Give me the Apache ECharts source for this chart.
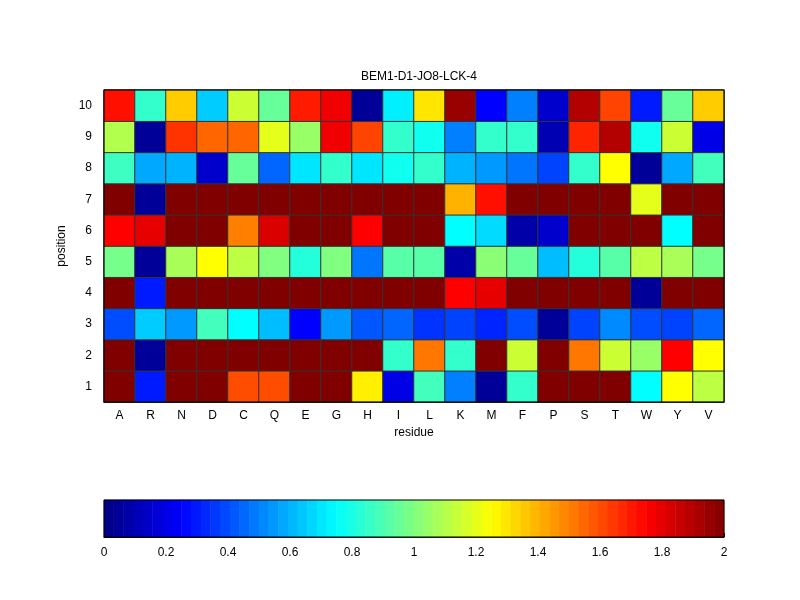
<!DOCTYPE html>
<html>
<head>
<meta charset="utf-8">
<script src="https://cdn.jsdelivr.net/npm/echarts@6/dist/echarts.min.js"></script>
<style>html,body{margin:0;background:#fff}#main{width:800px;height:600px}</style>
</head>
<body>
<div id="main"></div>
<script>
var residues = ['A','R','N','D','C','Q','E','G','H','I','L','K','M','F','P','S','T','W','Y','V'];
var positions = ['1','2','3','4','5','6','7','8','9','10'];
// rows: position 1..10, columns follow residues
var row1  = [2,0.3,2,2,1.6,1.6,2,2,1.28,0.2,0.88,0.5,0.05,0.85,2,2,2,0.75,1.25,1.12];
var row2  = [2,0.05,2,2,2,2,2,2,2,0.85,1.52,0.85,2,1.15,2,1.52,1.15,1.05,1.75,1.25];
var row3  = [0.4,0.65,0.55,0.88,0.75,0.62,0.25,0.55,0.42,0.45,0.35,0.38,0.32,0.4,0.05,0.38,0.52,0.4,0.38,0.45];
var row4  = [2,0.3,2,2,2,2,2,2,2,2,2,1.75,1.8,2,2,2,2,0.05,2,2];
var row5  = [0.98,0.05,1.08,1.25,1.12,1.0,0.82,1.0,0.48,0.92,0.92,0.08,1.02,0.95,0.62,0.82,0.92,1.12,1.08,0.98];
var row6  = [1.75,1.8,2,2,1.5,1.82,2,2,1.75,2,2,0.75,0.68,0.08,0.15,2,2,2,0.75,2];
var row7  = [2,0.05,2,2,2,2,2,2,2,2,2,1.4,1.72,2,2,2,2,1.2,2,2];
var row8  = [0.87,0.58,0.6,0.15,0.95,0.45,0.7,0.85,0.7,0.78,0.85,0.6,0.55,0.48,0.38,0.85,1.25,0.05,0.58,0.88];
var row9  = [1.1,0.05,1.65,1.55,1.55,1.2,1.05,1.78,1.62,0.85,0.78,0.5,0.85,0.85,0.1,1.68,1.9,0.78,1.15,0.2];
var row10 = [1.72,0.85,1.35,0.65,1.15,0.95,1.7,1.78,0.05,0.72,1.3,1.95,0.25,0.5,0.15,1.9,1.62,0.3,0.95,1.35];
var rows = [row1,row2,row3,row4,row5,row6,row7,row8,row9,row10];
var cbarTicks = [0,0.2,0.4,0.6,0.8,1,1.2,1.4,1.6,1.8,2];

var cells = [];
rows.forEach(function (r, y) { r.forEach(function (v, x) { cells.push([x, y, v]); }); });

var nBins = 64, bins = [], binData = [];
for (var i = 0; i < nBins; i++) { bins.push(i); binData.push([i, 0, (i + 0.5) * 2 / nBins]); }

var jet = ['#000080','#0000ff','#0080ff','#00ffff','#80ff80','#ffff00','#ff8000','#ff0000','#800000'];
var font = 'Liberation Sans';

var chart = echarts.init(document.getElementById('main'));
chart.setOption({
  backgroundColor: '#fff',
  animation: false,
  textStyle: {fontFamily: font},
  title: {text: 'BEM1-D1-JO8-LCK-4', left: 414, top: 66, textAlign: 'center',
    textStyle: {fontSize: 12, fontWeight: 'normal', color: '#000', fontFamily: font}},
  visualMap: {type: 'continuous', min: 0, max: 2, show: false, seriesIndex: [0, 1],
    inRange: {color: jet}},
  grid: [
    {left: 104, right: 76, top: 90, bottom: 198},
    {left: 104, right: 76, top: 500, bottom: 63}
  ],
  xAxis: [
    {type: 'category', gridIndex: 0, data: residues, name: 'residue', nameLocation: 'middle', nameGap: 24,
      nameTextStyle: {color: '#000', fontSize: 12},
      axisLine: {lineStyle: {color: '#000'}}, axisTick: {show: false},
      axisLabel: {color: '#000', fontSize: 12}, splitLine: {show: false}},
    {type: 'category', gridIndex: 1, data: bins, show: false},
    {type: 'value', gridIndex: 1, min: 0, max: 2, interval: 0.2, position: 'bottom',
      axisLine: {show: true, lineStyle: {color: '#000'}},
      axisTick: {show: true, inside: true, length: 4, lineStyle: {color: '#000'}},
      axisLabel: {color: '#000', fontSize: 12, margin: 10}, splitLine: {show: false}}
  ],
  yAxis: [
    {type: 'category', gridIndex: 0, data: positions, name: 'position', nameLocation: 'middle', nameGap: 30,
      nameTextStyle: {color: '#000', fontSize: 12},
      axisLine: {lineStyle: {color: '#000'}}, axisTick: {show: false},
      axisLabel: {color: '#000', fontSize: 12, margin: 12}},
    {type: 'category', gridIndex: 1, data: ['0'], show: false}
  ],
  series: [
    {type: 'heatmap', xAxisIndex: 0, yAxisIndex: 0, data: cells,
      itemStyle: {borderColor: '#333', borderWidth: 1}},
    {type: 'heatmap', xAxisIndex: 1, yAxisIndex: 1, data: binData}
  ],
  graphic: [
    {type: 'rect', shape: {x: 104, y: 90, width: 620, height: 312}, style: {fill: 'none', stroke: '#000', lineWidth: 1}, z: 100},
    {type: 'rect', shape: {x: 104, y: 500, width: 620, height: 37}, style: {fill: 'none', stroke: '#000', lineWidth: 1}, z: 100}
  ]
});
</script>
</body>
</html>
